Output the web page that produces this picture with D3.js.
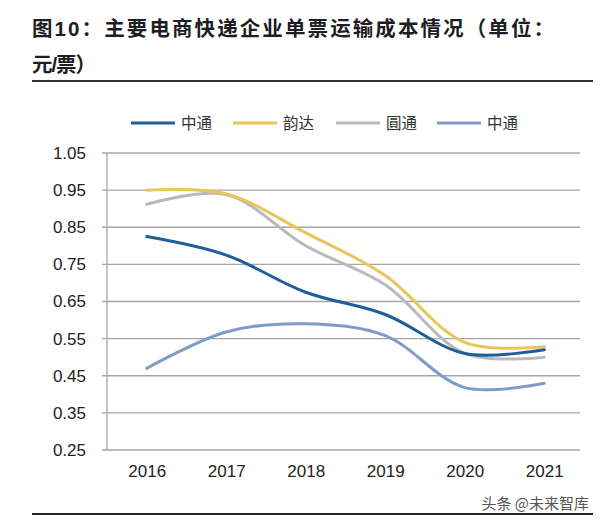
<!DOCTYPE html>
<html><head><meta charset="utf-8">
<script src="https://cdn.jsdelivr.net/npm/d3@7"></script>
<style>body{margin:0;background:#fff}svg{display:block}</style>
</head><body>
<svg id="c" width="600" height="520"></svg>
<script>
const years = ["2016","2017","2018","2019","2020","2021"];
const seriesNames = ["中通","韵达","圓通","中通"];
const zto   = [0.825, 0.775, 0.675, 0.615, 0.51, 0.52];
const yunda = [0.95, 0.94, 0.835, 0.72, 0.54, 0.528];
const yto   = [0.912, 0.938, 0.80, 0.695, 0.51, 0.50];
const sto   = [0.47, 0.568, 0.59, 0.558, 0.418, 0.43];
const yTicks = [0.25,0.35,0.45,0.55,0.65,0.75,0.85,0.95,1.05];
const colors = ["#1F5F99","#E8C65A","#B9B9B9","#7E9CC8"];
const series = [zto, yunda, yto, sto];

const svg = d3.select("#c");
const font = "'Liberation Sans', Arial, 'Noto Sans CJK SC', sans-serif";

// title
svg.append("text").attr("x",32).attr("y",36).attr("font-family",font)
  .attr("font-weight","bold").attr("font-size",20.5).attr("fill","#1d1d24")
  .attr("textLength",522).attr("lengthAdjust","spacing")
  .text("图10：主要电商快递企业单票运输成本情况（单位：");
svg.append("text").attr("x",32).attr("y",72).attr("font-family",font)
  .attr("font-weight","bold").attr("font-size",20.5).attr("fill","#1d1d24")
  .attr("textLength",64).attr("lengthAdjust","spacing")
  .text("元/票）");
svg.append("line").attr("x1",32).attr("x2",593).attr("y1",81).attr("y2",81)
  .attr("stroke","#333").attr("stroke-width",2);

const x = d3.scalePoint().domain(years).range([107,584]).padding(0.5);
const y = d3.scaleLinear().domain([0.25,1.05]).range([450,153]);

// gridlines
const g = svg.append("g");
g.selectAll("line.grid").data(yTicks).join("line")
  .attr("x1",102).attr("x2",580).attr("y1",d=>y(d)).attr("y2",d=>y(d))
  .attr("stroke","#a6a6a6").attr("stroke-width",1.3);
g.append("line").attr("x1",107).attr("x2",107).attr("y1",y(1.05)).attr("y2",y(0.25))
  .attr("stroke","#a6a6a6").attr("stroke-width",1.3);

// y labels
const yAxis = d3.axisLeft(y).tickValues(yTicks).tickFormat(d3.format(".2f")).tickSize(0).tickPadding(0);
const ya = svg.append("g").attr("transform","translate(86,0)").call(yAxis);
ya.select(".domain").remove();
ya.selectAll("text").attr("font-family",font).attr("font-size",17).attr("fill","#222");

// x labels
const xAxis = d3.axisBottom(x).tickSize(0).tickPadding(0);
const xa = svg.append("g").attr("transform","translate(0,463)").call(xAxis);
xa.select(".domain").remove();
xa.selectAll("text").attr("font-family",font).attr("font-size",17).attr("fill","#222").attr("dy","0.85em");

// lines
const line = d3.line().x((d,i)=>x(years[i])).y(d=>y(d)).curve(d3.curveCatmullRom.alpha(0.5));
const drawOrder = [3,2,1,0];
drawOrder.forEach(k=>{
  svg.append("path").datum(series[k]).attr("d",line).attr("fill","none")
    .attr("stroke",colors[k]).attr("stroke-width",3).attr("stroke-linecap","round");
});

// legend
const legX = [131,233,336,437];
const leg = svg.append("g");
seriesNames.forEach((n,i)=>{
  leg.append("line").attr("x1",legX[i]).attr("x2",legX[i]+44).attr("y1",123).attr("y2",123)
    .attr("stroke",colors[i]).attr("stroke-width",3);
  leg.append("text").attr("x",legX[i]+50).attr("y",128.5).attr("font-family","'Noto Sans CJK SC', sans-serif")
    .attr("font-size",15.5).attr("fill","#333").text(n);
});

// watermark & bottom rule
svg.append("text").attr("x",589).attr("y",509).attr("text-anchor","end")
  .attr("font-family","'Noto Sans CJK SC', sans-serif").attr("font-size",15).attr("fill","#555")
  .text("头条 @未来智库");
svg.append("line").attr("x1",32).attr("x2",593).attr("y1",514).attr("y2",514)
  .attr("stroke","#222").attr("stroke-width",2);
</script>
</body></html>
